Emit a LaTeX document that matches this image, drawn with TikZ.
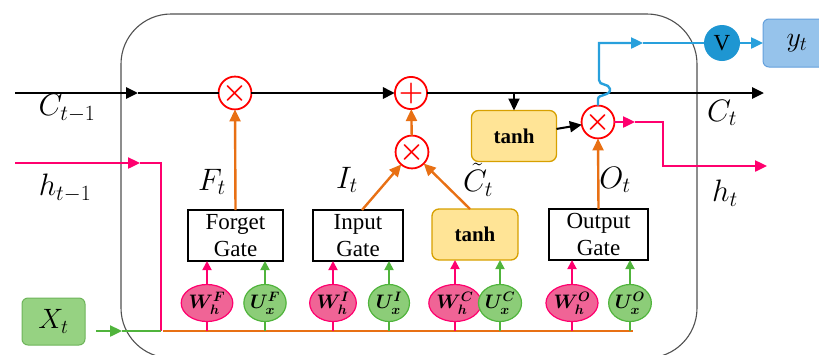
\documentclass[tikz,border=0pt]{standalone}
\usepackage{fix-cm}
\usepackage{amsmath}
\usepackage{fontspec}
\setmainfont{Liberation Serif}
\usetikzlibrary{arrows.meta,shapes.geometric}

\definecolor{opred}{RGB}{255,0,0}
\definecolor{orangeline}{RGB}{232,112,20}
\definecolor{pinkline}{RGB}{255,0,110}
\definecolor{pinkfill}{RGB}{240,100,150}
\definecolor{greenline}{RGB}{80,180,60}
\definecolor{greenfill}{RGB}{140,205,120}
\definecolor{xfill}{RGB}{150,210,130}
\definecolor{xline}{RGB}{110,180,90}
\definecolor{blueline}{RGB}{40,160,220}
\definecolor{vfill}{RGB}{30,150,210}
\definecolor{yfill}{RGB}{150,195,235}
\definecolor{yline}{RGB}{100,160,220}
\definecolor{tanhfill}{RGB}{255,228,150}
\definecolor{tanhline}{RGB}{215,160,0}
\definecolor{cellgray}{RGB}{80,80,80}

\newcommand\opfont{\fontsize{28}{30}\selectfont}
\newcommand\gatefont{\fontsize{23}{27}\selectfont}
\newcommand\tanhfont{\fontsize{21}{24}\selectfont\bfseries}
\newcommand\wfont{\fontsize{19.5}{21}\selectfont}
\newcommand\lblfont{\fontsize{31}{34}\selectfont}
\newcommand\boxfont{\fontsize{28}{30}\selectfont}

\tikzset{
  opcirc/.style={circle, draw=opred, fill=white, line width=1.8pt, minimum size=31pt, text=opred, font=\opfont},
  gatebox/.style={rectangle, draw=black, fill=white, line width=1.4pt, minimum height=51pt, align=center, font=\gatefont},
  tanhbox/.style={rectangle, draw=tanhline, fill=tanhfill, rounded corners=7pt, line width=1.3pt, minimum height=51pt, font=\tanhfont},
  wellipse/.style={ellipse, draw=pinkline, fill=pinkfill, line width=1.2pt, minimum width=42pt, minimum height=37pt, font=\wfont},
  uellipse/.style={ellipse, draw=greenline, fill=greenfill, line width=1.2pt, minimum width=41pt, minimum height=37pt, font=\wfont},
  lbl/.style={font=\lblfont},
  cellline/.style={draw=cellgray, line width=1.1pt},
  flowtip/.style={-{Triangle[length=12pt,width=11pt]}},
  smalltip/.style={-{Triangle[length=9pt,width=9pt]}},
  cflow/.style={draw=black, line width=2.8pt},
  hflow/.style={draw=pinkline, line width=2.4pt},
  xflow/.style={draw=greenline, line width=2.4pt},
  gflow/.style={draw=orangeline, line width=2.4pt},
  yflow/.style={draw=blueline, line width=2.4pt},
}

\begin{document}
\begin{tikzpicture}[y=1pt, x=1pt, yscale=-1, inner sep=0pt, outer sep=0pt]
\useasboundingbox (0,0) rectangle (819,354);

% cell
\path[cellline, rounded corners=50pt] (121,14) rectangle (697,358);

% operators
\node[opcirc] (mulF) at (235,93) {$\boldsymbol{\times}$};
\node[opcirc] (addC) at (411,93) {$\boldsymbol{+}$};
\node[opcirc] (mulI) at (412,152) {$\boldsymbol{\times}$};
\node[opcirc] (mulO) at (598,122) {$\boldsymbol{\times}$};

% gates
\node[tanhbox, minimum width=85pt] (tanhC) at (514,136) {tanh};
\node[gatebox, minimum width=95pt] (forget) at (235.5,235.5) {Forget\\Gate};
\node[gatebox, minimum width=90pt] (input) at (358,235.5) {Input\\Gate};
\node[tanhbox, minimum width=86pt] (tanhI) at (475,234.5) {tanh};
\node[gatebox, minimum width=99pt] (output) at (598.5,234.5) {Output\\Gate};

% weights
\node[wellipse] (WF) at (207,303) {$\boldsymbol{W_h^F}$};
\node[uellipse] (UF) at (265,303) {$\boldsymbol{U_x^F}$};
\node[wellipse] (WI) at (333,303) {$\boldsymbol{W_h^I}$};
\node[uellipse] (UI) at (389,303) {$\boldsymbol{U_x^I}$};
\node[wellipse] (WC) at (455,303) {$\boldsymbol{W_h^C}$};
\node[uellipse] (UC) at (500,303) {$\boldsymbol{U_x^C}$};
\node[wellipse] (WO) at (572,303) {$\boldsymbol{W_h^O}$};
\node[uellipse] (UO) at (630,303) {$\boldsymbol{U_x^O}$};

% input / output boxes
\node[rectangle, draw=xline, fill=xfill, line width=1pt, rounded corners=6pt, minimum width=63pt, minimum height=47pt, font=\boxfont] (xbox) at (53.5,321.5) {$X_t$};
\node[circle, fill=vfill, minimum size=36pt, font=\fontsize{23}{24}\selectfont] (V) at (722,43) {V};
\node[rectangle, draw=yline, fill=yfill, line width=1pt, rounded corners=6pt, minimum width=68pt, minimum height=48pt, font=\boxfont] (ybox) at (797,43) {$y_t$};

% labels
\node[lbl] (lcprev) at (67,108) {$C_{t-1}$};
\node[lbl] (lhprev) at (65,188) {$h_{t-1}$};
\node[lbl] (lct) at (722,113) {$C_t$};
\node[lbl] (lht) at (725,193) {$h_t$};
\node[lbl] (lft) at (212,182) {$F_t$};
\node[lbl] (lit) at (347,180) {$I_t$};
\node[lbl] (lctil) at (478,180) {$\tilde{C}_t$};
\node[lbl] (lot) at (615,180) {$O_t$};

% free ends
\coordinate (cin) at (15,93);
\coordinate (carr) at (138,93);
\coordinate (cout) at (764,93);
\coordinate (hin) at (15,163);
\coordinate (harrin) at (140,163);
\coordinate (hturn) at (161,163);
\coordinate (hbus) at (161,331);
\coordinate (xstart) at (96,331);
\coordinate (xarr) at (122,331);
\coordinate (busend) at (633,331);
\coordinate (harrout) at (635,122);
\coordinate (hout) at (767,166);
\coordinate (yarr) at (643,43);

% cell state
\path[cflow, flowtip] (cin) -- (carr);
\path[cflow] (carr) -- (mulF);
\path[cflow, flowtip] (mulF) -- (addC);
\path[cflow, flowtip] (addC) -- (cout);
\path[cflow, line width=2pt, flowtip] (tanhC.north |- cin) -- (tanhC.north);
\path[cflow, line width=2pt, flowtip] (tanhC) -- (mulO);

% hidden state in
\path[hflow, flowtip] (hin) -- (harrin);
\path[hflow] (harrin) -- (hturn) -- (hbus);
\path[xflow, flowtip] (xstart) -- (xarr);
\path[xflow] (xarr) -- (hbus);
\path[gflow] ([xshift=2pt]hbus) -- (busend);

% weights to gates
\foreach \w/\g in {WF/forget, WI/input, WC/tanhI, WO/output} {
  \path[hflow, line width=1.8pt] (\w.south) -- (\w.south |- hbus);
  \path[hflow, line width=1.8pt, smalltip] (\w.north) -- (\w.north |- \g.south);
}
\foreach \u/\g in {UF/forget, UI/input, UC/tanhI, UO/output} {
  \path[xflow, line width=1.8pt] (\u.south) -- (\u.south |- hbus);
  \path[xflow, line width=1.8pt, smalltip] (\u.north) -- (\u.north |- \g.south);
}

% gates to operators
\path[gflow, flowtip] (forget.north) -- (mulF.south);
\path[gflow, flowtip] ([xshift=4pt]input.north) -- (mulI);
\path[gflow, flowtip] ([xshift=-5pt]tanhI.north) -- (mulI);
\path[gflow, flowtip] (mulI) -- (addC);
\path[gflow, flowtip] (output.north) -- (mulO.south);

% outputs
\path[hflow, flowtip] (mulO) -- (harrout);
\path[hflow, flowtip] (harrout) -- (663,122) -- (663,166) -- (hout);
\path[yflow, flowtip] (mulO.north) -- (598,99) .. controls (598,94) and (611,96) .. (610,89) .. controls (609,83) and (599,86) .. (599,80) -- (599,43) -- (yarr);
\path[yflow] (yarr) -- (V);
\path[yflow, flowtip] (V) -- (ybox);

\end{tikzpicture}
\end{document}
